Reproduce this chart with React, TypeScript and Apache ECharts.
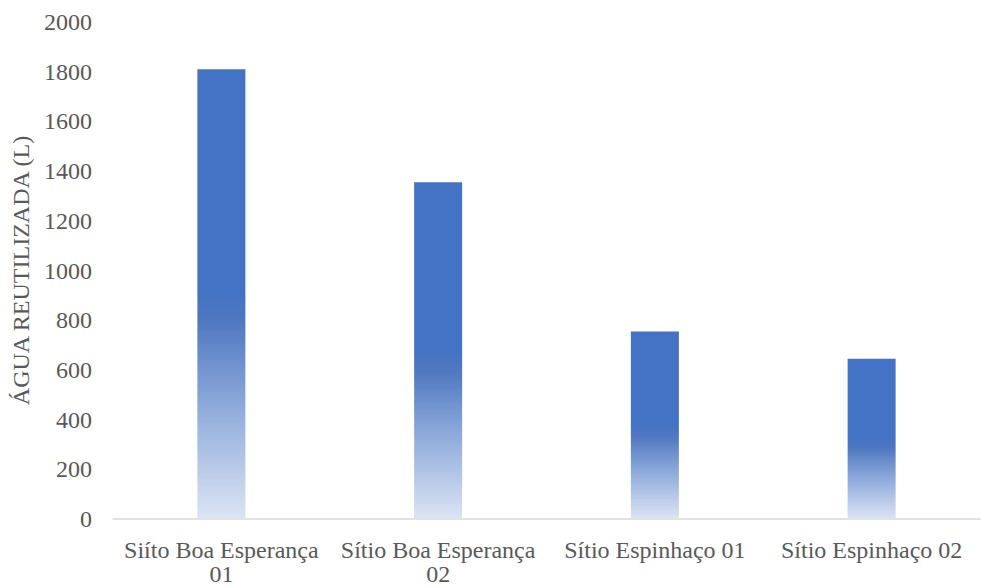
import React, { useEffect, useRef } from "react";
import * as echarts from "echarts";

const categories = [
  "Siíto Boa Esperança 01",
  "Sítio Boa Esperança 02",
  "Sítio Espinhaço 01",
  "Sítio Espinhaço 02",
];
const values = [1810, 1355, 755, 645];
const yTitle = "ÁGUA REUTILIZADA (L)";

export default function App() {
  const ref = useRef<HTMLDivElement>(null);
  useEffect(() => {
    if (!ref.current) return;
    const chart = echarts.init(ref.current, null, { renderer: "svg" });
    const font = "Liberation Serif";
    chart.setOption({
      animation: false,
      backgroundColor: "#ffffff",
      textStyle: { fontFamily: font },
      grid: {
        left: 113,
        right: 1,
        top: 22,
        bottom: 67,
        containLabel: false,
        outerBoundsMode: "none",
      },
      xAxis: {
        type: "category",
        data: categories,
        axisLine: { show: true, lineStyle: { color: "#d9d9d9", width: 1.5 } },
        axisTick: { show: false },
        axisLabel: {
          color: "#595959",
          fontFamily: font,
          fontSize: 24,
          margin: 19,
          lineHeight: 24,
          interval: 0,
          formatter: (s: string) => {
            if (s.length <= 19) return s;
            const i = s.lastIndexOf(" ");
            return s.slice(0, i) + "\n" + s.slice(i + 1);
          },
        },
      },
      yAxis: {
        type: "value",
        min: 0,
        max: 2000,
        interval: 200,
        name: yTitle,
        nameLocation: "middle",
        nameGap: 80,
        nameTextStyle: { color: "#595959", fontFamily: font, fontSize: 24 },
        axisLine: { show: false },
        axisTick: { show: false },
        splitLine: { show: false },
        axisLabel: {
          color: "#595959",
          fontFamily: font,
          fontSize: 24,
          margin: 21,
          formatter: (v: number) => String(v),
        },
      },
      series: [
        {
          type: "bar",
          data: values,
          barWidth: 48,
          itemStyle: {
            color: new echarts.graphic.LinearGradient(0, 0, 0, 1, [
              { offset: 0, color: "#4472C4" },
              { offset: 0.5, color: "#4472C4" },
              { offset: 0.56, color: "#5078c0" },
              { offset: 0.75, color: "#8eaadb" },
              { offset: 1, color: "#dce4f4" },
            ]),
          },
        },
      ],
    });
    return () => chart.dispose();
  }, []);
  return <div ref={ref} style={{ width: 981, height: 586, position: "absolute", left: 0, top: 0 }} />;
}
